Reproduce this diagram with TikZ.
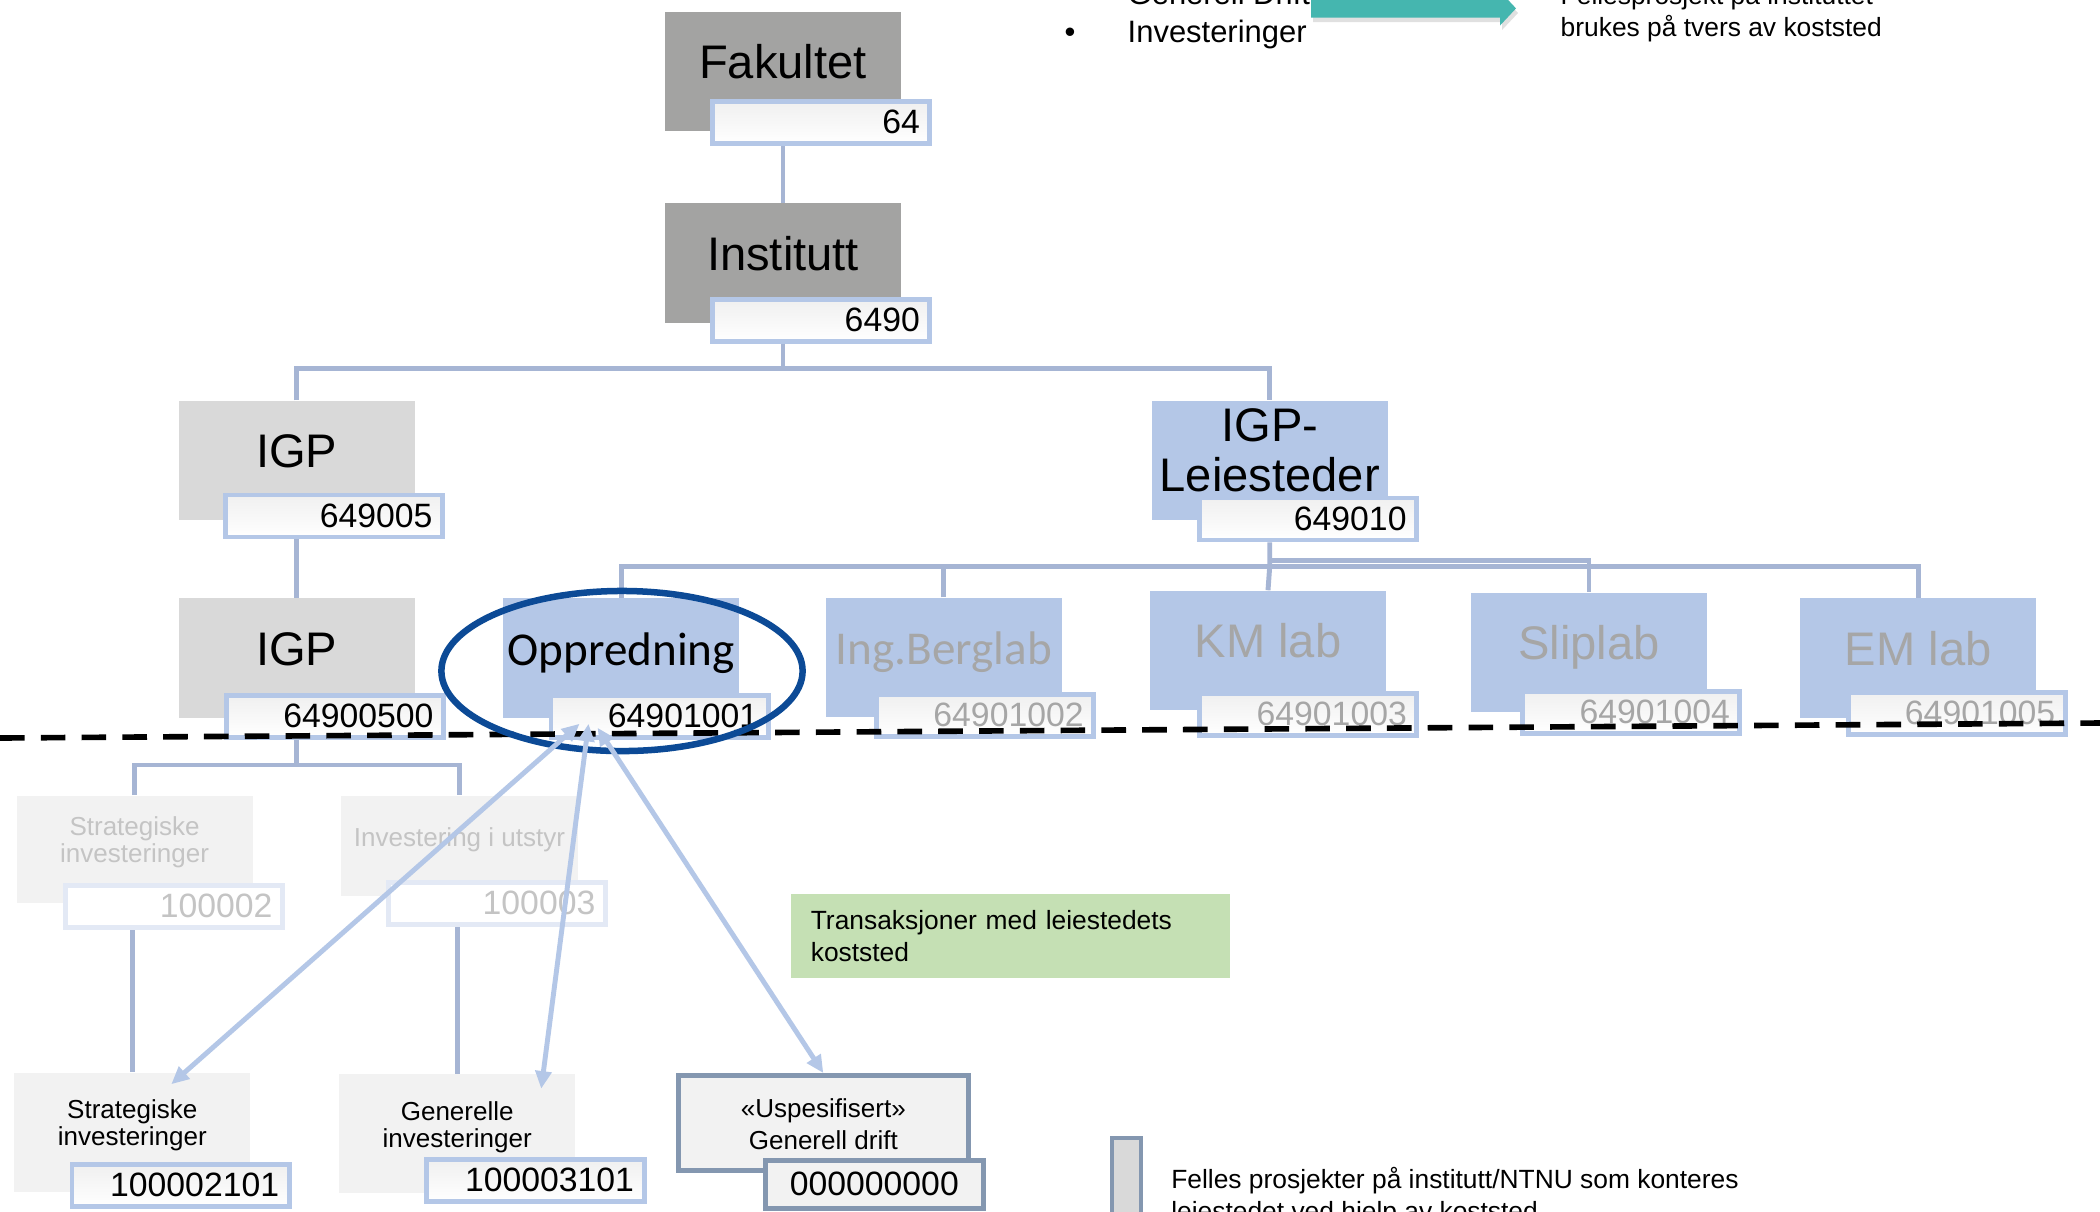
\documentclass[tikz,border=0pt]{standalone}
\usepackage{fontspec}
\setmainfont{Liberation Sans}
\newfontfamily\calibri{Carlito}
\definecolor{FacGray}{HTML}{A3A3A2}
\definecolor{UnitGray}{HTML}{D9D9D9}
\definecolor{PaleGray}{HTML}{F2F2F2}
\definecolor{LabBlue}{HTML}{B4C7E7}
\definecolor{LineBlue}{HTML}{A6B5D4}
\definecolor{FadeBlue}{HTML}{E3E9F5}
\definecolor{FadeText}{HTML}{C4C4C4}
\definecolor{LabText}{HTML}{A6A6A6}
\definecolor{SlateEdge}{HTML}{8497B0}
\definecolor{RingNavy}{HTML}{0C4A96}
\definecolor{NoteGreen}{HTML}{C5E0B4}
\definecolor{TealArrow}{HTML}{45B6AF}
\usetikzlibrary{
  arrows.meta,
  positioning,
  shapes.geometric
}

\begin{document}
\begin{tikzpicture}[
  x=0.01cm, y=-0.01cm,
  unit/.style={
    rectangle, minimum width=2.36cm, minimum height=1.19cm,
    inner sep=0pt, text height=10pt, text depth=6pt,
    font=\fontsize{13.4}{14.2}\selectfont
  },
  code/.style={
    rectangle, draw=LabBlue, line width=1.4pt,
    top color=black!6, bottom color=white,
    minimum width=2.17cm, minimum height=0.42cm,
    text width=1.97cm, align=right, inner xsep=0.1cm, inner ysep=0pt,
    text height=7pt, text depth=0.7pt,
    font=\fontsize{9.6}{11}\selectfont
  },
  fadecode/.style={draw=FadeBlue, top color=white, bottom color=white, text=FadeText},
  small/.style={inner sep=0pt, align=center, font=\fontsize{7.4}{7.6}\selectfont},
  note/.style={
    inner xsep=0.2cm, inner ysep=0pt, align=left,
    font=\fontsize{7.5}{9.1}\selectfont
  },
  conn/.style={draw=LineBlue, line width=1.4pt},
  dashline/.style={line width=1.6pt, dash pattern=on 7pt off 4.6pt},
  ring/.style={ellipse, draw=RingNavy, line width=1.85pt, inner sep=0pt,
    minimum width=3.61cm, minimum height=1.60cm},
  biarrow/.style={draw=LabBlue, line width=1.4pt,
    {Triangle[length=5pt,width=4.5pt]}-{Triangle[length=5pt,width=4.5pt]}}
]
  % Page
  \fill[white] (0,0) rectangle (2100,1211);
  \useasboundingbox (0,0) rectangle (2100,1211);

  % Fakultet and Institutt
  \node[unit, fill=FacGray] (fak) at (783,71.5) {Fakultet};
  \node[code, below right=0.88cm and 0.46cm of fak.north west] (fakcode) {64};
  \node[unit, fill=FacGray] (inst) at (783,263) {Institutt};
  \node[code, below right=0.94cm and 0.46cm of inst.north west] (instcode) {6490};

  % IGP and IGP-Leiesteder
  \node[unit, fill=UnitGray] (igp) at (296.7,460.7) {IGP};
  \node[code, below right=0.92cm and 0.45cm of igp.north west] (igpcode) {649005};
  \node[unit, fill=LabBlue] (igpl) at (1269.7,460.7) {};
  \node[inner sep=0pt, align=center, font=\fontsize{13.4}{14.2}\selectfont,
    below=0.073cm of igpl.north] (igpltxt) {IGP-\\Leiesteder};
  \node[code, below right=0.95cm and 0.46cm of igpl.north west] (igplcode) {649010};

  % Leiesteder
  \node[unit, fill=UnitGray] (igp2) at (296.7,658) {IGP};
  \node[code, below right=0.95cm and 0.46cm of igp2.north west] (igp2code) {64900500};
  \node[unit, fill=LabBlue, font=\calibri\fontsize{13.4}{14.2}\selectfont]
    (opp) at (621.3,658) {Oppredning};
  \node[code, below right=0.95cm and 0.46cm of opp.north west] (oppcode) {64901001};
  \node[unit, fill=LabBlue, text=LabText, font=\calibri\fontsize{13.4}{14.2}\selectfont]
    (berg) at (943.8,657.5) {Ing.Berglab};
  \node[code, text=LabText, below right=0.95cm and 0.49cm of berg.north west] (bergcode) {64901002};
  \node[unit, fill=LabBlue, text=LabText] (km) at (1268,650.5) {KM lab};
  \node[code, text=LabText, below right=1.01cm and 0.48cm of km.north west] (kmcode) {64901003};
  \node[unit, fill=LabBlue, text=LabText] (slip) at (1589,652.5) {Sliplab};
  \node[code, text=LabText, below right=0.97cm and 0.50cm of slip.north west] (slipcode) {64901004};
  \node[unit, fill=LabBlue, text=LabText] (em) at (1918.3,658) {EM lab};
  \node[code, text=LabText, below right=0.92cm and 0.46cm of em.north west] (emcode) {64901005};

  % Faded projects
  \node[unit, fill=PaleGray, minimum height=1.07cm] (strat) at (134.6,849.4) {};
  \node[small, text=FadeText, below=0.21cm of strat.north] (strattxt) {Strategiske\\investeringer};
  \node[code, fadecode, below right=0.88cm and 0.47cm of strat.north west] (stratcode) {100002};
  \node[unit, fill=PaleGray, minimum height=1.0cm, text=FadeText,
    font=\fontsize{7.4}{7.6}\selectfont, text height=5pt, text depth=5pt]
    (utstyr) at (459.5,846) {Investering i utstyr};
  \node[code, fadecode, below right=0.85cm and 0.45cm of utstyr.north west] (utstyrcode) {100003};

  % Projects
  \node[unit, fill=PaleGray] (strat2) at (132.3,1132.4) {};
  \node[small, below=0.268cm of strat2.north] (strat2txt) {Strategiske\\investeringer};
  \node[code, below right=0.90cm and 0.56cm of strat2.north west] (strat2code) {100002101};
  \node[unit, fill=PaleGray] (gen) at (457.2,1133.9) {};
  \node[small, below=0.274cm of gen.north] (gentxt) {Generelle\\investeringer};
  \node[code, below right=0.83cm and 0.86cm of gen.north west] (gencode) {100003101};
  \node[unit, draw=SlateEdge, line width=1.4pt, fill=PaleGray,
    minimum width=2.9cm, minimum height=0.95cm] (usp) at (823.3,1123) {};
  \node[small, font=\fontsize{7.4}{9.2}\selectfont, below=0.245cm of usp.north]
    (usptxt) {«Uspesifisert»\\Generell drift};
  \node[code, draw=SlateEdge, top color=PaleGray, bottom color=PaleGray, align=center,
    minimum width=2.18cm, minimum height=0.48cm,
    below right=0.85cm and 0.87cm of usp.north west] (uspcode) {000000000};

  % Connectors
  \draw[conn] (fak |- fakcode.south) -- (inst.north);
  \coordinate (bus1) at (783,368.5);
  \draw[conn] (inst |- instcode.south) -- (bus1);
  \draw[conn] (igp.north) |- (bus1) -| (igpl.north);
  \draw[conn] (igp |- igpcode.south) -- (igp2.north);
  \coordinate (bus2) at (1269.7,566.4);
  \draw[conn] (igpl |- igplcode.south) -- (bus2) -- (km.north);
  \draw[conn] (opp.north) |- (bus2) -| (em.north);
  \draw[conn] ([yshift=1.7pt]bus2) -| (slip.north);
  \draw[conn] (berg.north) -- (berg.north |- bus2);
  \coordinate (bus3) at (296.7,765);
  \draw[conn] (igp2 |- igp2code.south) -- (bus3);
  \draw[conn] (strat.north) |- (bus3) -| (utstyr.north);
  \draw[conn] (strat2.north |- stratcode.south) -- (strat2.north);
  \draw[conn] (gen.north |- utstyrcode.south) -- (gen.north);

  % Boundary of the leiested level
  \draw[dashline] (0,738) -- (2100,723);
  \node[ring] (ring) at (622,671) {};

  % Transactions
  \coordinate (tip1) at ([shift={(31,-16)}]oppcode.south west);
  \coordinate (tip2) at ([shift={(40,-16)}]oppcode.south west);
  \coordinate (tip3) at ([shift={(49,-12)}]oppcode.south west);
  \draw[biarrow] (tip1) -- ([shift={(39,12)}]strat2.north);
  \draw[biarrow] (tip2) -- ([shift={(84,15)}]gen.north);
  \draw[biarrow] (tip3) -- (usp.north);

  \node[note, fill=NoteGreen, minimum width=4.385cm, minimum height=0.836cm,
    text width=3.985cm] (trans) at (1010.2,935.8)
    {Transaksjoner med leiestedets\\koststed};

  % Legend
  \node[draw=SlateEdge, line width=1.4pt, fill=UnitGray, inner sep=0pt,
    minimum width=0.29cm, minimum height=1.3cm, anchor=north west]
    (legbox) at (1109.5,1135.5) {};
  \node[note, inner sep=0pt, anchor=north west] (legtxt) at (1170.6,1166.6)
    {Felles prosjekter på institutt/NTNU som konteres\\leiestedet ved hjelp av koststed};

  % Top text
  \node[anchor=base west, inner sep=0pt, font=\fontsize{8.8}{10.6}\selectfont] (drift) at (1127,4) {Generell Drift};
  \node[anchor=base west, inner sep=0pt, font=\fontsize{8.8}{10.6}\selectfont] (inv) at (1127,42) {Investeringer};
  \node[anchor=base, inner sep=0pt, font=\fontsize{8.8}{10.6}\selectfont] (dot) at (1070,42) {•};
  \fill[black, opacity=0.12]
    (1313,4) -- (1502,4) -- (1502,-4) -- (1518,13) -- (1502,30) -- (1502,22) -- (1313,22) -- cycle;
  \fill[TealArrow]
    (1311,-0.7) -- (1500,-0.7) -- (1500,-8.7) -- (1516,8.4) -- (1500,25.5) -- (1500,17.5) -- (1311,17.5) -- cycle;
  \node[note, inner sep=0pt, anchor=north west] (felles) at (1560,-17.5)
    {Fellesprosjekt på instituttet\\brukes på tvers av koststed};
\end{tikzpicture}
\end{document}
